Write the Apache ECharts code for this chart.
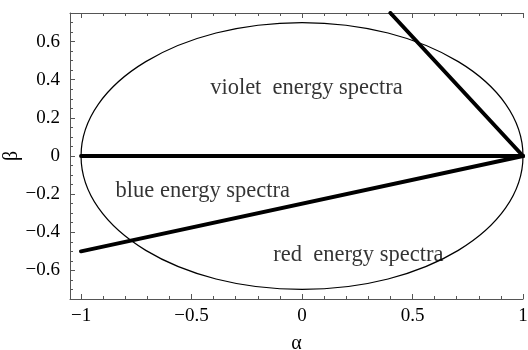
<!DOCTYPE html>
<html>
<head>
<meta charset="utf-8">
<script src="https://cdn.jsdelivr.net/npm/echarts@6/dist/echarts.min.js"></script>
<style>
  html, body { margin: 0; padding: 0; background: #fff; }
  #chart { width: 528px; height: 350px; }
</style>
</head>
<body>
<div id="chart"></div>
<script>
// axis ranges and ticks
const xRange = [-1.05, 1.0];
const yRange = [-0.75, 0.75];
const xMajorTicks = [-1, -0.5, 0, 0.5, 1];
const xMinorTicks = [-1, -0.9, -0.8, -0.7, -0.6, -0.5, -0.4, -0.3, -0.2, -0.1, 0, 0.1, 0.2, 0.3, 0.4, 0.5, 0.6, 0.7, 0.8, 0.9, 1];
const yMajorTicks = [-0.6, -0.4, -0.2, 0, 0.2, 0.4, 0.6];
const yMinorTicks = [-0.75, -0.7, -0.65, -0.6, -0.55, -0.5, -0.45, -0.4, -0.35, -0.3, -0.25, -0.2, -0.15, -0.1, -0.05, 0,
  0.05, 0.1, 0.15, 0.2, 0.25, 0.3, 0.35, 0.4, 0.45, 0.5, 0.55, 0.6, 0.65, 0.7, 0.75];

// ellipse: centre x, centre y, semi-axis a, semi-axis b
const ellipse = [[0, 0, 1, 0.7]];

// the three boundary lines
const lineZero = [[-1, 0], [1, 0]];
const lineLower = [[-1, -0.5], [1, 0]];
const lineUpper = [[0.4, 0.75], [1, 0]];

// region labels (centre in data coords)
const regionNames = ['violet  energy spectra', 'blue energy spectra', 'red  energy spectra'];
const regionAt = [[0.02, 0.356], [-0.449, -0.185], [0.255, -0.519]];

const FONT = '"Liberation Serif", "DejaVu Serif", serif';
const AXIS_GRAY = '#555';

function tickText(v) {
  if (v < 0) return '\u2212' + String(Math.abs(v));
  return String(v);
}

function frameAxis(extra) {
  return Object.assign({
    type: 'value',
    splitLine: { show: false },
    axisLine: { show: true, onZero: false, lineStyle: { color: AXIS_GRAY, width: 1 } },
    axisLabel: { show: false },
    axisTick: { show: true, inside: true, lineStyle: { color: AXIS_GRAY } }
  }, extra);
}

const gridBox = { left: 70, right: 5, top: 13, bottom: 51, containLabel: false, outerBoundsMode: 'none' };

const chart = echarts.init(document.getElementById('chart'), null, { renderer: 'canvas' });

chart.setOption({
  animation: false,
  backgroundColor: '#fff',
  grid: [Object.assign({}, gridBox), Object.assign({}, gridBox)],
  xAxis: [
    frameAxis({
      gridIndex: 0, position: 'bottom', min: xRange[0], max: xRange[1],
      name: 'α', nameLocation: 'middle', nameGap: 35, nameMoveOverlap: false,
      nameTextStyle: { fontFamily: FONT, fontSize: 20, color: '#000' },
      axisLabel: {
        show: true, customValues: xMajorTicks, formatter: tickText, margin: 8,
        fontFamily: FONT, fontSize: 19, color: '#000'
      },
      axisTick: { show: true, inside: true, length: 5, customValues: xMajorTicks, lineStyle: { color: AXIS_GRAY } }
    }),
    frameAxis({
      gridIndex: 0, position: 'top', min: xRange[0], max: xRange[1],
      axisTick: { show: true, inside: true, length: 5, customValues: xMajorTicks, lineStyle: { color: AXIS_GRAY } }
    }),
    frameAxis({
      gridIndex: 1, position: 'bottom', min: xRange[0], max: xRange[1],
      axisLine: { show: false, onZero: false },
      axisTick: { show: true, inside: true, length: 3, customValues: xMinorTicks, lineStyle: { color: AXIS_GRAY } }
    }),
    frameAxis({
      gridIndex: 1, position: 'top', min: xRange[0], max: xRange[1],
      axisLine: { show: false, onZero: false },
      axisTick: { show: true, inside: true, length: 3, customValues: xMinorTicks, lineStyle: { color: AXIS_GRAY } }
    })
  ],
  yAxis: [
    frameAxis({
      gridIndex: 0, position: 'left', min: yRange[0], max: yRange[1],
      name: 'β', nameLocation: 'middle', nameGap: 48, nameMoveOverlap: false,
      nameTextStyle: { fontFamily: FONT, fontSize: 20, color: '#000' },
      axisLabel: {
        show: true, customValues: yMajorTicks, formatter: tickText, margin: 10,
        fontFamily: FONT, fontSize: 19, color: '#000'
      },
      axisTick: { show: true, inside: true, length: 5, customValues: yMajorTicks, lineStyle: { color: AXIS_GRAY } }
    }),
    frameAxis({
      gridIndex: 1, position: 'left', min: yRange[0], max: yRange[1],
      axisLine: { show: false, onZero: false },
      axisTick: { show: true, inside: true, length: 3, customValues: yMinorTicks, lineStyle: { color: AXIS_GRAY } }
    })
  ],
  series: [
    {
      type: 'custom',
      xAxisIndex: 0, yAxisIndex: 0,
      data: ellipse,
      renderItem: function (params, api) {
        const c = api.coord([api.value(0), api.value(1)]);
        const s = api.size([api.value(2), api.value(3)]);
        return {
          type: 'ellipse',
          shape: { cx: c[0], cy: c[1], rx: s[0], ry: s[1] },
          style: { fill: 'none', stroke: '#000', lineWidth: 1.2 }
        };
      },
      silent: true
    },
    {
      type: 'line', data: lineZero, symbol: 'none', silent: true,
      lineStyle: { color: '#000', width: 4, cap: 'round' }
    },
    {
      type: 'line', data: lineLower, symbol: 'none', silent: true,
      lineStyle: { color: '#000', width: 4, cap: 'round' }
    },
    {
      type: 'line', data: lineUpper, symbol: 'none', silent: true,
      lineStyle: { color: '#000', width: 4, cap: 'round' }
    },
    {
      type: 'scatter', symbolSize: 0, silent: true,
      data: regionNames.map(function (n, i) {
        return { name: n, value: regionAt[i] };
      }),
      label: {
        show: true, position: 'inside', formatter: '{b}',
        fontFamily: FONT, fontSize: 22.5, color: '#000'
      }
    }
  ]
});
</script>
</body>
</html>
